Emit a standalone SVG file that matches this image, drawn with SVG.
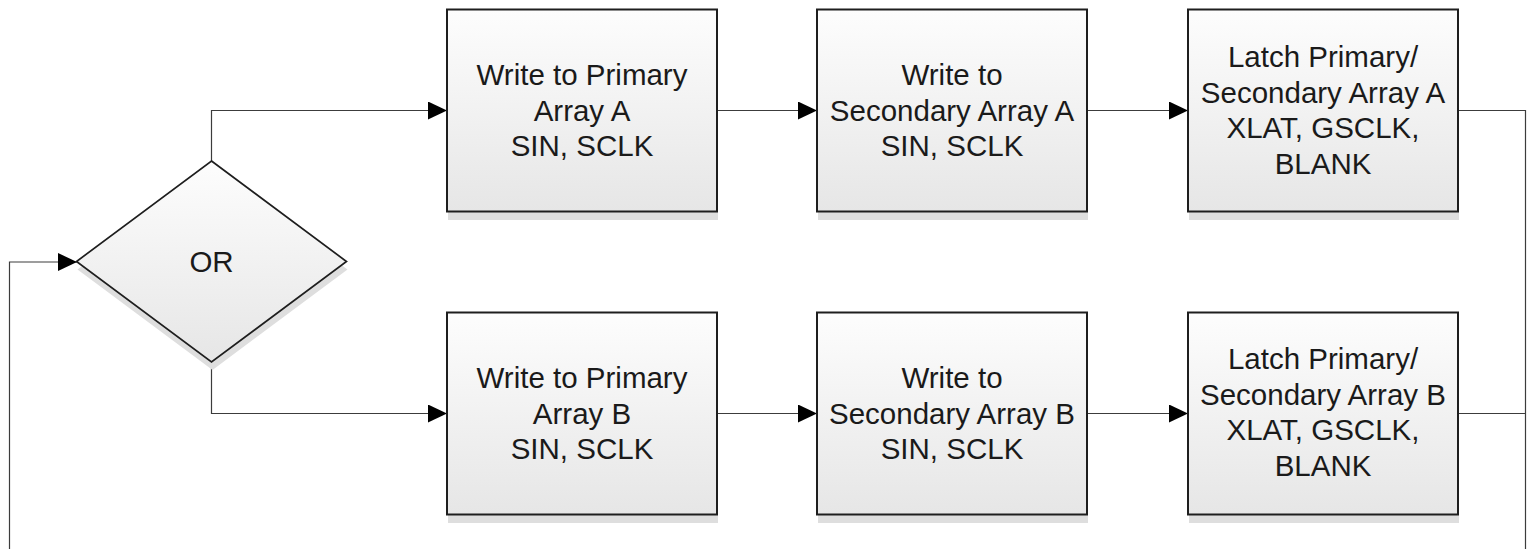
<svg xmlns="http://www.w3.org/2000/svg" width="1527" height="549" viewBox="0 0 1527 549">
  <defs>
    <linearGradient id="fillGrad" x1="0" y1="0" x2="0" y2="1">
      <stop offset="0" stop-color="#fdfdfd"/>
      <stop offset="1" stop-color="#e6e6e6"/>
    </linearGradient>
    <marker id="arrow" markerUnits="userSpaceOnUse" markerWidth="20" markerHeight="20" refX="19" refY="9" orient="auto">
      <path d="M0,0 L19,9 L0,18 Z" fill="#000"/>
    </marker>
    <style>
      .box { fill: url(#fillGrad); stroke: #1e1e1e; stroke-width: 2; }
      .diamond { fill: url(#fillGrad); stroke: #1e1e1e; stroke-width: 1.7; }
      .shadow { fill: #dedede; }
      .label { font-family: "Liberation Sans", Arial, sans-serif; font-size: 29.5px; fill: #1a1a1a; text-anchor: middle; }
      .conn { fill: none; stroke: #3c3c3c; stroke-width: 1.2; }
      .arrowed { marker-end: url(#arrow); }
    </style>
  </defs>

  <rect width="1527" height="549" fill="#ffffff"/>

  <!-- connectors -->
  <g id="connectors">
    <path class="conn arrowed" d="M211.5,161 V110.5 H447"/>
    <path class="conn arrowed" d="M211.5,362 V413.5 H447"/>
    <path class="conn arrowed" d="M717,110.5 H817"/>
    <path class="conn arrowed" d="M1087,110.5 H1188"/>
    <path class="conn arrowed" d="M717,413.5 H817"/>
    <path class="conn arrowed" d="M1087,413.5 H1188"/>
    <path class="conn" d="M1458,110.5 H1525.5 V560"/>
    <path class="conn" d="M1458,413.5 H1525.5"/>
    <path class="conn arrowed" d="M9.5,560 V262 H77"/>
  </g>

  <!-- decision -->
  <g id="node-or">
    <path class="shadow" d="M212.5,169 L347.5,269.5 L212.5,370 L77.5,269.5 Z"/>
    <path class="diamond" d="M211.5,161 L346.5,261.5 L211.5,362 L76.5,261.5 Z"/>
    <text class="label" x="211.5" y="272">OR</text>
  </g>

  <!-- row A -->
  <g id="node-primary-a">
    <rect class="shadow" x="448" y="18" width="270" height="202"/>
    <rect class="box" x="447" y="9.5" width="270" height="202"/>
    <text class="label" x="582" y="85">Write to Primary</text>
    <text class="label" x="582" y="120.5">Array A</text>
    <text class="label" x="582" y="156">SIN, SCLK</text>
  </g>
  <g id="node-secondary-a">
    <rect class="shadow" x="818" y="18" width="270" height="202"/>
    <rect class="box" x="817" y="9.5" width="270" height="202"/>
    <text class="label" x="952" y="85">Write to</text>
    <text class="label" x="952" y="120.5">Secondary Array A</text>
    <text class="label" x="952" y="156">SIN, SCLK</text>
  </g>
  <g id="node-latch-a">
    <rect class="shadow" x="1189" y="18" width="270" height="202"/>
    <rect class="box" x="1188" y="9.5" width="270" height="202"/>
    <text class="label" x="1323" y="67">Latch Primary/</text>
    <text class="label" x="1323" y="102.5">Secondary Array A</text>
    <text class="label" x="1323" y="138">XLAT, GSCLK,</text>
    <text class="label" x="1323" y="173.5">BLANK</text>
  </g>

  <!-- row B -->
  <g id="node-primary-b">
    <rect class="shadow" x="448" y="321" width="270" height="202"/>
    <rect class="box" x="447" y="312.5" width="270" height="202"/>
    <text class="label" x="582" y="388">Write to Primary</text>
    <text class="label" x="582" y="423.5">Array B</text>
    <text class="label" x="582" y="459">SIN, SCLK</text>
  </g>
  <g id="node-secondary-b">
    <rect class="shadow" x="818" y="321" width="270" height="202"/>
    <rect class="box" x="817" y="312.5" width="270" height="202"/>
    <text class="label" x="952" y="388">Write to</text>
    <text class="label" x="952" y="423.5">Secondary Array B</text>
    <text class="label" x="952" y="459">SIN, SCLK</text>
  </g>
  <g id="node-latch-b">
    <rect class="shadow" x="1189" y="321" width="270" height="202"/>
    <rect class="box" x="1188" y="312.5" width="270" height="202"/>
    <text class="label" x="1323" y="369">Latch Primary/</text>
    <text class="label" x="1323" y="404.5">Secondary Array B</text>
    <text class="label" x="1323" y="440">XLAT, GSCLK,</text>
    <text class="label" x="1323" y="475.5">BLANK</text>
  </g>
</svg>
